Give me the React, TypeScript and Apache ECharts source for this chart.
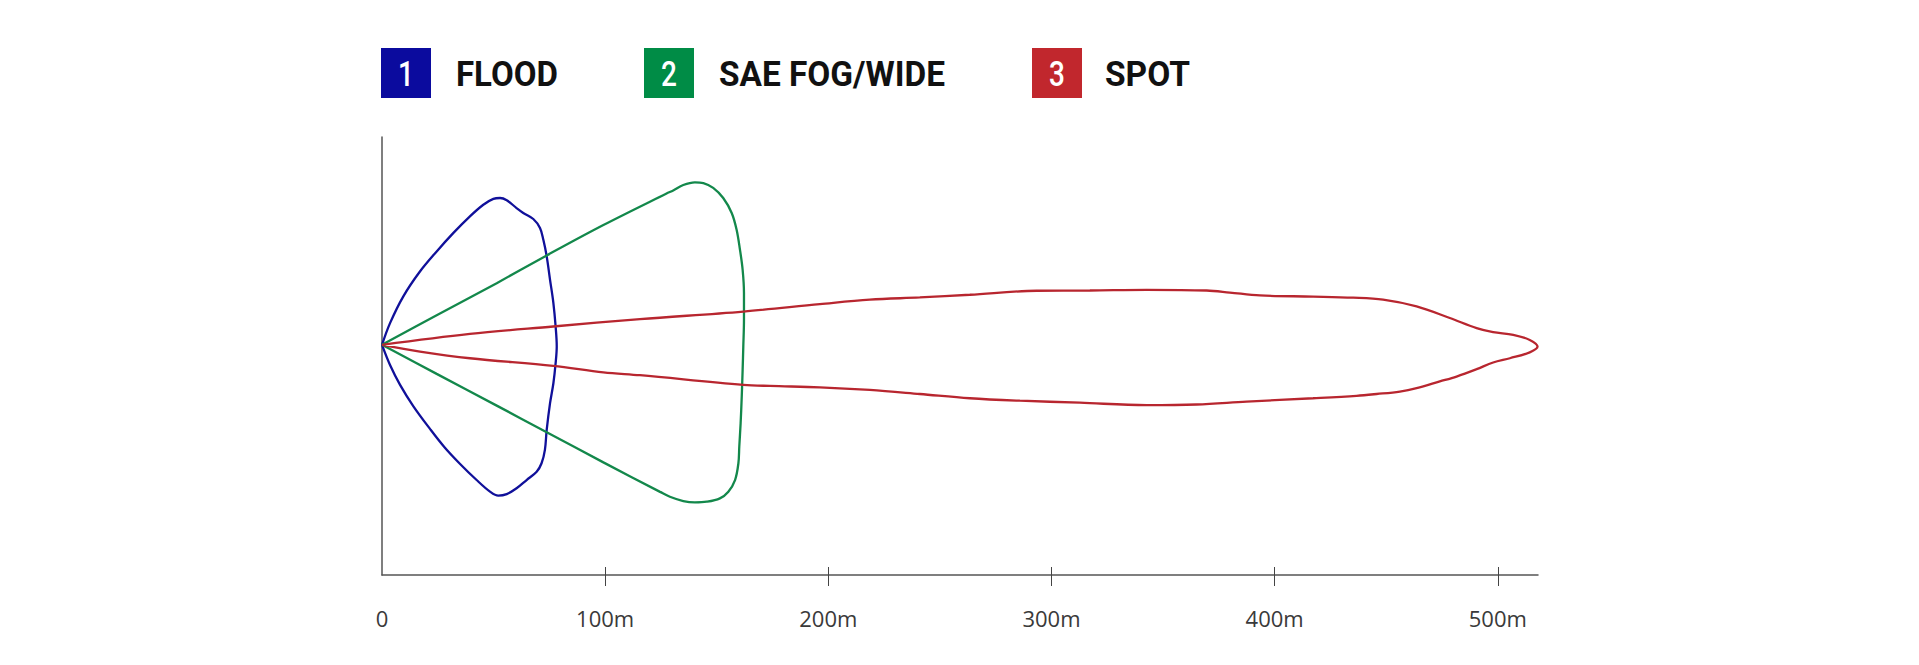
import React, { useEffect, useRef } from "react";
import * as echarts from "echarts";

// ---- data (meters: distance x, lateral y) ----
const seriesNames = ["FLOOD", "SAE FOG/WIDE", "SPOT"];
const seriesNumbers = ["1", "2", "3"];
const seriesColors = ["#0b0b9e", "#008c46", "#c1272d"];
const lineColors = ["#10109a", "#13884b", "#b8262f"];

const xTickValues = [100, 200, 300, 400, 500];
const xLabelValues = [0, 100, 200, 300, 400, 500];

const floodBeam: [number, number][] = [
  [0, 0], [3.6, 9.7], [9.5, 21.6], [17.0, 32.8], [24.5, 41.8], [31.9, 50.0],
  [39.4, 57.5], [45.4, 62.7], [49.9, 65.3], [52.9, 65.7], [55.9, 64.7],
  [60.3, 61.2], [63.3, 59.0], [67.8, 56.3], [70.8, 52.3], [72.3, 47.0],
  [73.8, 39.6], [75.3, 29.1], [76.8, 18.7], [77.8, 8.2], [78.3, -0.7],
  [77.8, -8.2], [76.8, -17.2], [75.3, -26.1], [73.8, -38.1], [73.0, -47.0],
  [71.5, -53.0], [69.3, -56.8], [64.8, -60.5], [60.3, -64.2], [55.9, -66.8],
  [52.1, -67.5], [48.4, -65.7], [42.4, -60.5], [35.0, -53.3], [28.0, -45.8],
  [21.5, -37.6], [14.0, -27.4], [8.1, -17.9], [3.6, -9.0], [0, 0],
];

const fogBeam: [number, number][] = [
  [0, 0], [24.5, 13.2], [51.4, 27.6], [73.8, 40.0], [99.2, 53.6],
  [127.5, 67.7], [130.5, 69.1], [135.0, 71.5], [140.2, 72.7], [144.0, 72.4],
  [148.4, 70.2], [152.9, 65.7], [156.7, 59.0], [158.9, 51.5], [160.4, 42.6],
  [161.6, 33.6], [162.2, 23.2], [162.2, 11.2], [161.9, -0.7], [161.6, -11.2],
  [161.2, -23.1], [160.7, -35.1], [160.1, -45.5], [159.7, -53.0],
  [158.2, -60.5], [155.2, -65.7], [151.4, -68.7], [145.5, -70.2],
  [140.2, -70.5], [135.0, -69.9], [129.0, -68.0], [124.6, -65.8],
  [99.2, -52.6], [73.8, -39.1], [51.4, -27.2], [24.5, -13.0], [0, 0],
];

const spotBeam: [number, number][] = [
  [0, 0], [39.4, 4.9], [76.7, 8.2], [115.6, 11.5], [161.9, 14.9],
  [196.2, 18.2], [218.6, 20.2], [241.0, 21.2], [263.4, 22.4], [293.3, 24.2],
  [317.2, 24.3], [342.6, 24.6], [369.5, 24.3], [379.9, 23.4], [393.4, 22.1],
  [417.2, 21.6], [435.2, 21.1], [448.6, 20.2], [463.6, 17.2], [478.5, 12.0],
  [490.5, 7.5], [497.9, 5.7], [506.9, 4.5], [514.3, 2.2], [517.8, -0.8],
  [514.3, -3.4], [505.4, -6.0], [497.9, -7.9], [490.5, -10.9], [481.5, -14.2],
  [474.0, -16.4], [463.6, -19.4], [456.1, -20.9], [445.7, -22.0],
  [436.7, -22.8], [417.2, -23.9], [387.4, -25.4], [365.0, -26.7],
  [342.6, -27.0], [312.7, -25.9], [285.8, -25.0], [263.4, -23.9],
  [241.0, -22.0], [218.6, -20.2], [196.2, -19.0], [173.8, -18.4],
  [161.9, -17.9], [115.6, -13.6], [99.2, -12.3], [76.7, -9.4], [39.4, -6.0],
  [17.0, -3.0], [0, 0],
];

const beams = [floodBeam, fogBeam, spotBeam];

// ---- layout ----
const LEGEND_BOX_X = [381, 644, 1032];
const LEGEND_TEXT_X = [456, 719, 1105];
const LEGEND_TEXT_W = [102, 226, 85];
const LEGEND_Y = 48;
const LEGEND_BOX = 50;
const LEGEND_FONT_SIZE = 35;
const LEGEND_FONT_FAMILY = "Roboto";
const LEGEND_FONT_WEIGHT = "bold";

function measure(text: string, font: string): number {
  const c = document.createElement("canvas").getContext("2d");
  if (!c) return text.length * 20;
  c.font = font;
  return c.measureText(text).width;
}

export default function App() {
  const ref = useRef<HTMLDivElement>(null);

  useEffect(() => {
    if (!ref.current) return;
    const chart = echarts.init(ref.current, undefined, { renderer: "svg" });
    const font = `${LEGEND_FONT_WEIGHT} ${LEGEND_FONT_SIZE}px ${LEGEND_FONT_FAMILY}`;

    const legendGraphics: any[] = [];
    seriesNames.forEach((name, i) => {
      legendGraphics.push({
        type: "rect",
        shape: { x: LEGEND_BOX_X[i], y: LEGEND_Y, width: LEGEND_BOX, height: LEGEND_BOX },
        style: { fill: seriesColors[i] },
        silent: true,
      });
      legendGraphics.push({
        type: "text",
        x: LEGEND_BOX_X[i] + LEGEND_BOX / 2,
        y: LEGEND_Y + LEGEND_BOX / 2 + 1,
        scaleX: 0.8,
        style: {
          text: seriesNumbers[i],
          fill: "#ffffff",
          fontSize: LEGEND_FONT_SIZE,
          fontFamily: LEGEND_FONT_FAMILY,
          fontWeight: "500",
          textAlign: "center",
          textVerticalAlign: "middle",
          align: "center",
          verticalAlign: "middle",
        },
        silent: true,
      });
      const w = measure(name, font);
      legendGraphics.push({
        type: "text",
        x: LEGEND_TEXT_X[i],
        y: LEGEND_Y + LEGEND_BOX / 2 + 1,
        scaleX: LEGEND_TEXT_W[i] / w,
        style: {
          text: name,
          fill: "#111111",
          fontSize: LEGEND_FONT_SIZE,
          fontFamily: LEGEND_FONT_FAMILY,
          fontWeight: LEGEND_FONT_WEIGHT,
          textAlign: "left",
          textVerticalAlign: "middle",
          align: "left",
          verticalAlign: "middle",
        },
        silent: true,
      });
    });

    const axisColor = "#555555";

    chart.setOption({
      animation: false,
      backgroundColor: "#ffffff",
      grid: { left: 382, right: 381, top: 137, bottom: 90, containLabel: false },
      graphic: legendGraphics,
      xAxis: [
        {
          type: "value",
          min: 0,
          max: 518,
          interval: 100,
          position: "bottom",
          axisLine: { show: true, onZero: false, lineStyle: { color: axisColor, width: 1.5 } },
          axisTick: {
            show: true,
            length: 11,
            customValues: xTickValues,
            lineStyle: { color: "#444444", width: 1 },
          },
          axisLabel: {
            show: true,
            customValues: xLabelValues,
            margin: 32,
            color: "#3a3a3a",
            fontFamily: "Open Sans",
            fontSize: 22,
            formatter: (v: number) => (v === 0 ? "0" : v % 100 === 0 ? `${v}m` : ""),
          },
          splitLine: { show: false },
        },
        {
          type: "value",
          min: 0,
          max: 518,
          interval: 100,
          position: "bottom",
          axisLine: { show: false, onZero: false },
          axisTick: {
            show: true,
            inside: true,
            length: 8,
            customValues: xTickValues,
            lineStyle: { color: "#444444", width: 1 },
          },
          axisLabel: { show: false },
          splitLine: { show: false },
        },
      ],
      yAxis: {
        type: "value",
        min: -103,
        max: 93,
        axisLine: { show: true, onZero: false, lineStyle: { color: axisColor, width: 1.5 } },
        axisTick: { show: false },
        axisLabel: { show: false },
        splitLine: { show: false },
      },
      series: beams.map((data, i) => ({
        name: seriesNames[i],
        type: "line",
        xAxisIndex: 0,
        data,
        smooth: 0.35,
        symbol: "none",
        showSymbol: false,
        lineStyle: { color: lineColors[i], width: 2.3 },
        itemStyle: { color: lineColors[i] },
        silent: true,
      })),
    });

    return () => chart.dispose();
  }, []);

  return (
    <div
      ref={ref}
      style={{ position: "absolute", left: 0, top: 0, width: 1919, height: 665 }}
    />
  );
}
